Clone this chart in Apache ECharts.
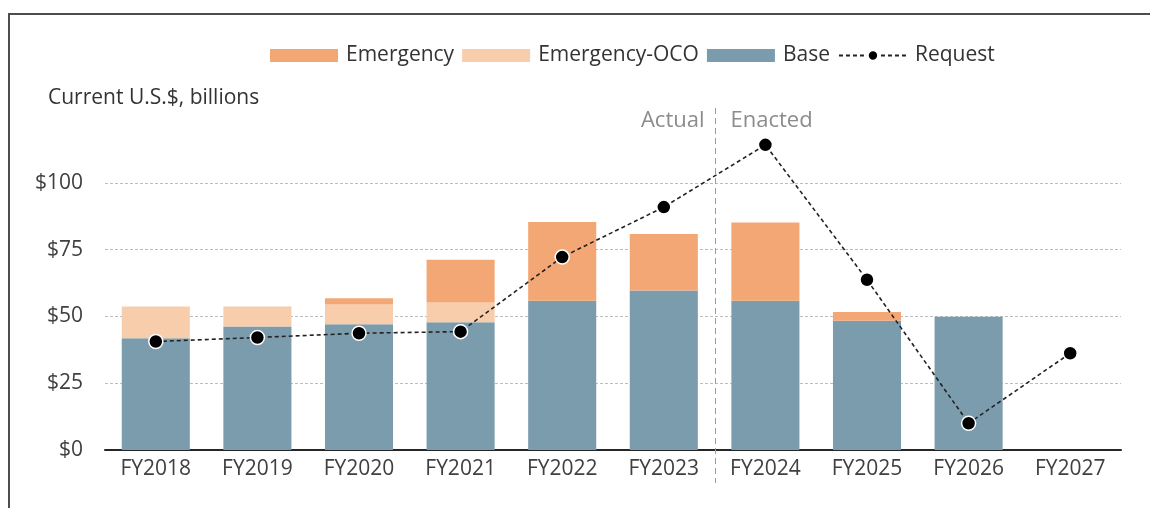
<!DOCTYPE html>
<html>
<head>
<meta charset="utf-8">
<script src="https://cdn.jsdelivr.net/npm/echarts@6/dist/echarts.min.js"></script>
<style>
  html, body { margin: 0; padding: 0; background: #fff; }
  #chart { width: 1150px; height: 508px; }
</style>
</head>
<body>
<div id="chart"></div>
<script>
// Fiscal years on the category axis
const years = ['FY2018', 'FY2019', 'FY2020', 'FY2021', 'FY2022', 'FY2023', 'FY2024', 'FY2025', 'FY2026', 'FY2027'];

// Funding, current U.S.$ billions
const baseFunding = [41.8, 46.2, 47.1, 47.8, 55.9, 59.7, 55.9, 48.4, 49.9, null];
const ocoFunding = [11.9, 7.5, 7.4, 7.4, 0, 0, 0, 0, 0, null];
const emergencyFunding = [0, 0, 2.3, 16.0, 29.4, 21.1, 29.2, 3.2, 0, null];
const requestLevel = [40.6, 42.1, 43.7, 44.3, 72.2, 90.9, 114.2, 63.7, 10.0, 36.2];

// Value axis ticks
const yTicks = [0, 25, 50, 75, 100];
const yMax = 125;

const FONT = '"Open Sans", "Liberation Sans", sans-serif';
const C_BASE = '#7b9cad';
const C_OCO = '#f8cdac';
const C_EMERG = '#f3a775';

const chart = echarts.init(document.getElementById('chart'), null, { renderer: 'canvas' });

const gridColors = [];
for (let v = 0; v <= yMax; v += 25) {
  gridColors.push(yTicks.indexOf(v) >= 0 ? '#bdbdbd' : 'rgba(0,0,0,0)');
}

const option = {
  backgroundColor: '#fff',
  animation: false,
  textStyle: { fontFamily: FONT },
  legend: {
    left: 270,
    top: 45,
    padding: 0,
    itemWidth: 68,
    itemHeight: 13,
    itemGap: 8,
    textStyle: { fontFamily: FONT, fontSize: 21, color: '#333', padding: [0, 0, 0, 3] },
    data: [
      { name: 'Emergency', icon: 'rect' },
      { name: 'Emergency-OCO', icon: 'rect' },
      { name: 'Base', icon: 'rect' },
      { name: 'Request' }
    ]
  },
  grid: { left: 105, right: 29, top: 116, bottom: 58 },
  xAxis: {
    type: 'category',
    data: years,
    axisLine: { lineStyle: { color: '#262626', width: 2 } },
    axisTick: { show: false },
    axisLabel: { fontFamily: FONT, fontSize: 21, color: '#404040', margin: 9 }
  },
  yAxis: {
    type: 'value',
    min: 0,
    max: yMax,
    interval: 25,
    axisLine: { show: false },
    axisTick: { show: false },
    axisLabel: {
      fontFamily: FONT, fontSize: 21, color: '#404040', margin: 22,
      formatter: v => (yTicks.indexOf(v) >= 0 ? '$' + v : '')
    },
    splitLine: { lineStyle: { color: gridColors, width: 1, type: [3, 2] } }
  },
  series: [
    {
      name: 'Base', type: 'bar', stack: 'funding', barWidth: '67%',
      itemStyle: { color: C_BASE }, data: baseFunding
    },
    {
      name: 'Emergency-OCO', type: 'bar', stack: 'funding',
      itemStyle: { color: C_OCO }, data: ocoFunding
    },
    {
      name: 'Emergency', type: 'bar', stack: 'funding',
      itemStyle: { color: C_EMERG }, data: emergencyFunding
    },
    {
      name: 'Request', type: 'line', z: 5,
      symbol: 'circle', symbolSize: 14,
      itemStyle: { color: '#000', borderColor: '#fff', borderWidth: 1.5 },
      lineStyle: { color: '#222', width: 1.6, type: [4, 3] },
      data: requestLevel
    }
  ]
};

chart.setOption(option);

// Divider between actual and enacted years, placed at the category boundary
const xA = chart.convertToPixel({ xAxisIndex: 0 }, 'FY2023');
const xB = chart.convertToPixel({ xAxisIndex: 0 }, 'FY2024');
const xDiv = Math.round((xA + xB) / 2) + 0.5;

chart.setOption({
  graphic: [
    // frame
    { type: 'polyline', silent: true,
      shape: { points: [[9, 508], [9, 14], [1150, 14]] },
      style: { stroke: '#4d4d4d', lineWidth: 2, fill: null } },
    // unit label
    { type: 'text', x: 48, y: 98,
      style: { text: 'Current U.S.$, billions', fontFamily: FONT, fontSize: 21, fill: '#333',
               verticalAlign: 'middle' } },
    // actual / enacted divider
    { type: 'line', silent: true, z: 1,
      shape: { x1: xDiv, y1: 108, x2: xDiv, y2: 483 },
      style: { stroke: '#9a9a9a', lineWidth: 1, lineDash: [6, 4] } },
    { type: 'text', x: xDiv - 11, y: 121,
      style: { text: 'Actual', fontFamily: FONT, fontSize: 22, fill: '#8c8c8c',
               align: 'right', verticalAlign: 'middle' } },
    { type: 'text', x: xDiv + 15, y: 121,
      style: { text: 'Enacted', fontFamily: FONT, fontSize: 22, fill: '#8c8c8c',
               align: 'left', verticalAlign: 'middle' } }
  ]
});
</script>
</body>
</html>
